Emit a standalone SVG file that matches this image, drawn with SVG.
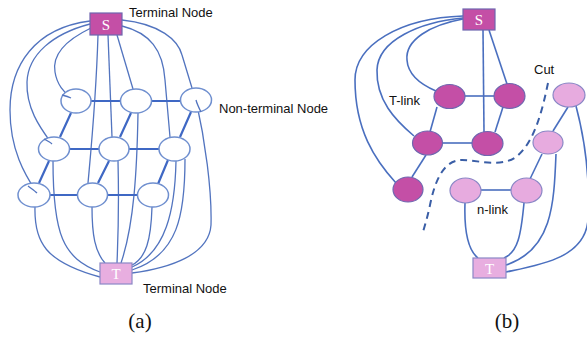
<svg xmlns="http://www.w3.org/2000/svg" width="587" height="338" viewBox="0 0 587 338">
  <style>
    .link { fill: none; stroke: #5274bf; stroke-width: 1.3; }
    .edge { fill: none; stroke: #3f68c4; stroke-width: 2.2; }
    .bedge { fill: none; stroke: #4a6fbf; stroke-width: 1.6; }
    .cut { fill: none; stroke: #3a5ea6; stroke-width: 2; stroke-dasharray: 7 5; }
    .white { fill: #ffffff; stroke: #6f8fcf; stroke-width: 1.5; }
    .dark { fill: #c44fa6; stroke: #6f66b0; stroke-width: 1.2; }
    .light { fill: #e7abdf; stroke: #8a87c6; stroke-width: 1.2; }
    .sbox { fill: #c44fa6; stroke: #6f66b0; stroke-width: 1.2; }
    .tbox { fill: #e8aee0; stroke: #8a87c6; stroke-width: 1.2; }
    .glyph { font-family: "Liberation Serif", serif; font-size: 15px; fill: #ffffff; text-anchor: middle; }
    .label { font-family: "Liberation Sans", Arial, sans-serif; font-size: 13px; fill: #111111; }
    .caption { font-family: "Liberation Serif", serif; font-size: 21px; fill: #111111; text-anchor: middle; }
  </style>

  <!-- links: (a) graph -->
  <g id="connectors">
    <!-- source links (a) -->
    <path class="link" d="M90,21 C35,28 10,65 10,110 C10,150 25,175 37,193"/>
    <path class="link" d="M90,24 C52,34 28,55 27,82 C26,110 42,130 52,144"/>
    <path class="link" d="M91,28 C66,40 52,55 55,72 C57,85 64,92 71,98"/>
    <path class="link" d="M98,35 C96,100 91,150 88,183"/>
    <path class="link" d="M108,35 L112,137"/>
    <path class="link" d="M117,35 L133,89"/>
    <path class="link" d="M122,26 C150,33 163,50 165,80 L170,137"/>
    <path class="link" d="M122,20 C160,24 178,40 182,55 L192,88"/>
    <!-- sink links (a) -->
    <path class="link" d="M35,207 C34,242 45,262 100,277"/>
    <path class="link" d="M53,161 C53,235 63,258 100,272"/>
    <path class="link" d="M92,207 C92,235 95,252 105,263"/>
    <path class="link" d="M118,161 C119,200 118,240 117,263"/>
    <path class="link" d="M138,113 C137,170 134,225 121,263"/>
    <path class="link" d="M152,207 C151,240 146,258 132,265"/>
    <path class="link" d="M176,161 C175,210 166,252 132,267"/>
    <path class="link" d="M185,159 C185,215 178,255 132,270"/>
    <path class="link" d="M196,100 C205,140 212,190 211,225 C209,255 170,268 132,273"/>
    <!-- grid edges (a) -->
    <path class="edge" d="M91,101 L121,101 M152,101 L181,101"/>
    <path class="edge" d="M70,149 L99,149 M129,149 L159,149"/>
    <path class="edge" d="M50,195 L78,195 M107,195 L138,195"/>
    <path class="edge" d="M71,113 L60,137 M131,113 L120,137 M191,112 L180,137"/>
    <path class="edge" d="M49,161 L39,183 M109,161 L98,183 M168,160 L158,184"/>

    <!-- (b) graph -->
    <path class="bedge" d="M463,19 C430,25 405,40 407,60 C408,75 422,85 436,91"/>
    <path class="bedge" d="M463,18 C420,22 378,40 377,70 C376,100 395,120 414,136"/>
    <path class="bedge" d="M463,16 C400,18 355,45 355,80 C355,130 375,160 396,183"/>
    <path class="bedge" d="M483,30 L484,132"/>
    <path class="bedge" d="M489,30 L507,84"/>
    <path class="bedge" d="M465,96 L494,96"/>
    <path class="bedge" d="M442,143 L472,143"/>
    <path class="bedge" d="M437,107 L430,132"/>
    <path class="bedge" d="M503,107 L495,132"/>
    <path class="bedge" d="M426,155 L412,177"/>
    <path class="bedge" d="M568,107 L553,131"/>
    <path class="bedge" d="M542,154 L530,179"/>
    <path class="bedge" d="M481,190 L511,190"/>
    <path class="bedge" d="M465,203 C464,232 468,250 478,258"/>
    <path class="bedge" d="M524,203 C521,235 518,252 504,258"/>
    <path class="bedge" d="M556,154 C554,205 552,250 506,265"/>
    <path class="bedge" d="M576,106 C585,140 590,180 588,220 C585,258 540,265 506,272"/>
    <path class="cut" d="M548,83 C542,112 534,143 516,157 C500,168 478,160 462,160 C444,160 435,180 430,205 C428,215 425,225 423,232"/>
  </g>

  <!-- (a) terminals -->
  <g id="a-source">
    <rect class="sbox" x="90" y="13" width="32" height="22"/>
    <text class="glyph" x="106" y="29.5">S</text>
  </g>
  <g id="a-sink">
    <rect class="tbox" x="100" y="263" width="32" height="21"/>
    <text class="glyph" x="116" y="279">T</text>
  </g>

  <!-- (a) grid nodes -->
  <g id="a-n11"><ellipse class="white" cx="76" cy="101" rx="15" ry="12"/></g>
  <g id="a-n12"><ellipse class="white" cx="136" cy="101" rx="15.5" ry="12"/></g>
  <g id="a-n13"><ellipse class="white" cx="196" cy="100" rx="15.5" ry="12"/></g>
  <g id="a-n21"><ellipse class="white" cx="54" cy="149" rx="15.5" ry="12"/></g>
  <g id="a-n22"><ellipse class="white" cx="114" cy="149" rx="15" ry="12"/></g>
  <g id="a-n23"><ellipse class="white" cx="174.5" cy="149" rx="15.5" ry="12"/></g>
  <g id="a-n31"><ellipse class="white" cx="34" cy="195" rx="16" ry="12"/></g>
  <g id="a-n32"><ellipse class="white" cx="92.5" cy="195" rx="15" ry="12"/></g>
  <g id="a-n33"><ellipse class="white" cx="153" cy="195" rx="15.5" ry="12"/></g>

  <!-- links that end inside the white nodes -->
  <g id="a-inner-links">
    <path class="link" d="M62,95 C66,96 69,97 71,98"/>
    <path class="link" d="M44,139 C48,141 50,142 52,144"/>
    <path class="link" d="M28,186 C32,189 35,191 37,193"/>
    <path class="link" d="M196,100 C197,104 199,108 201,112"/>
  </g>

  <!-- (b) terminals -->
  <g id="b-source">
    <rect class="sbox" x="463" y="9" width="32" height="21"/>
    <text class="glyph" x="479" y="25">S</text>
  </g>
  <g id="b-sink">
    <rect class="tbox" x="473" y="258" width="33" height="20"/>
    <text class="glyph" x="489.5" y="273.5">T</text>
  </g>

  <!-- (b) source side nodes -->
  <g id="b-s1"><ellipse class="dark" cx="449.5" cy="96.5" rx="15.5" ry="12"/></g>
  <g id="b-s2"><ellipse class="dark" cx="509.5" cy="96" rx="15.5" ry="12.5"/></g>
  <g id="b-s3"><ellipse class="dark" cx="427.5" cy="143" rx="15" ry="12"/></g>
  <g id="b-s4"><ellipse class="dark" cx="487.5" cy="143.5" rx="15.5" ry="12"/></g>
  <g id="b-s5"><ellipse class="dark" cx="408" cy="189.5" rx="15" ry="12.5"/></g>

  <!-- (b) sink side nodes -->
  <g id="b-t1"><ellipse class="light" cx="569" cy="95" rx="16" ry="12"/></g>
  <g id="b-t2"><ellipse class="light" cx="548" cy="142.5" rx="15" ry="11.5"/></g>
  <g id="b-t3"><ellipse class="light" cx="465.5" cy="190.5" rx="15.5" ry="12.5"/></g>
  <g id="b-t4"><ellipse class="light" cx="526.5" cy="190.5" rx="15.5" ry="12.5"/></g>

  <!-- labels -->
  <g id="labels">
    <text class="label" x="129" y="17">Terminal Node</text>
    <text class="label" x="219" y="113">Non-terminal Node</text>
    <text class="label" x="143" y="293">Terminal Node</text>
    <text class="label" x="389" y="105">T-link</text>
    <text class="label" x="534" y="74">Cut</text>
    <text class="label" x="477" y="214">n-link</text>
    <text class="caption" x="140" y="328">(a)</text>
    <text class="caption" x="507" y="328">(b)</text>
  </g>
</svg>
